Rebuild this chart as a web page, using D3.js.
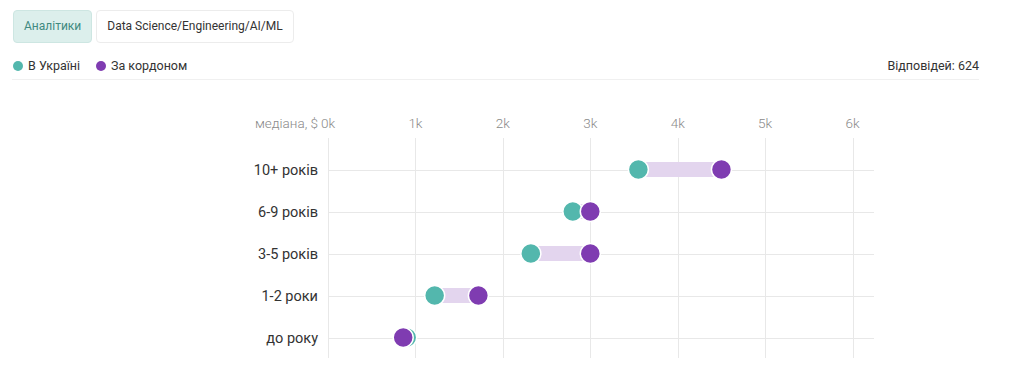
<!DOCTYPE html>
<html lang="uk">
<head>
    <meta charset="UTF-8">
    <title>Зарплати</title>
    <script src="https://d3js.org/d3.v7.min.js"></script>
    <style>
        body {
            margin: 0;
            background-color: #fff;
            font-family: Roboto, "Noto Sans", Arial, sans-serif;
            color: #333;
        }

        .tabs {
            position: absolute;
            top: 10px;
            left: 13px;
            display: flex;
            gap: 4px;
        }

        .tab {
            height: 31px;
            line-height: 31px;
            padding: 0 10px;
            font-size: 12px;
            border: 1px solid #ececec;
            border-radius: 4px;
            background: #fff;
            color: #333;
        }

        .tab.active {
            background: #dcefec;
            border-color: #cde6e2;
            color: #3f8a80;
        }
    </style>
</head>
<body>
    <div class="tabs">
        <div class="tab active">Аналітики</div>
        <div class="tab">Data Science/Engineering/AI/ML</div>
    </div>
    <div id="chart"></div>

    <script>
        // data (median, $)
        const categories = ["10+ років", "6-9 років", "3-5 років", "1-2 роки", "до року"];
        const inUkraine = [3550, 2800, 2320, 1220, 900];
        const abroad = [4500, 3000, 3000, 1720, 860];
        const ticks = [0, 1000, 2000, 3000, 4000, 5000, 6000];
        const seriesNames = ["В Україні", "За кордоном"];
        const responses = 624;

        const teal = "#53b7ad";
        const purple = "#7f3cb1";

        const W = 1024, H = 388;
        const svg = d3.select("#chart")
            .append("svg")
            .attr("width", W)
            .attr("height", H)
            .style("position", "absolute")
            .style("left", 0)
            .style("top", 0)
            .style("pointer-events", "none");

        // legend
        const legend = svg.append("g");
        const legendX = [18, 101];
        seriesNames.forEach((name, i) => {
            legend.append("circle")
                .attr("cx", legendX[i])
                .attr("cy", 66)
                .attr("r", 5)
                .attr("fill", i === 0 ? teal : purple);
            legend.append("text")
                .attr("x", legendX[i] + 10)
                .attr("y", 66)
                .attr("dy", "0.35em")
                .attr("font-size", 12.5)
                .attr("fill", "#333")
                .text(name);
        });
        svg.append("text")
            .attr("x", 979)
            .attr("y", 66)
            .attr("dy", "0.35em")
            .attr("text-anchor", "end")
            .attr("font-size", 12.5)
            .attr("fill", "#333")
            .text(`Відповідей: ${responses}`);
        svg.append("line")
            .attr("x1", 12).attr("x2", 979)
            .attr("y1", 79.5).attr("y2", 79.5)
            .attr("stroke", "#f0f0f0");

        // scales
        const x = d3.scaleLinear().domain([0, 6000]).range([328, 852.6]);
        const y = d3.scalePoint().domain(categories).range([169.5, 337.5]);
        const gridRight = 874;

        // vertical grid + tick labels
        const g = svg.append("g");
        g.selectAll(".vgrid")
            .data(ticks)
            .enter()
            .append("line")
            .attr("x1", d => Math.round(x(d)) + 0.5)
            .attr("x2", d => Math.round(x(d)) + 0.5)
            .attr("y1", 138)
            .attr("y2", 358)
            .attr("stroke", "#e8e8e8");

        g.selectAll(".tick")
            .data(ticks)
            .enter()
            .append("text")
            .attr("x", d => x(d))
            .attr("y", 123)
            .attr("dy", "0.35em")
            .attr("text-anchor", "middle")
            .attr("font-size", 13.5)
            .attr("font-weight", 300)
            .attr("fill", "#8a8a8a")
            .text(d => `${d / 1000}k`);

        g.append("text")
            .attr("x", x(0) - 10)
            .attr("y", 123)
            .attr("dy", "0.35em")
            .attr("text-anchor", "end")
            .attr("font-size", 13.5)
            .attr("font-weight", 300)
            .attr("fill", "#8a8a8a")
            .text("медіана, $");

        // horizontal grid + category labels
        g.selectAll(".hgrid")
            .data(categories)
            .enter()
            .append("line")
            .attr("x1", x(0))
            .attr("x2", gridRight)
            .attr("y1", d => Math.round(y(d)) + 0.5)
            .attr("y2", d => Math.round(y(d)) + 0.5)
            .attr("stroke", "#e8e8e8");

        g.selectAll(".cat")
            .data(categories)
            .enter()
            .append("text")
            .attr("x", 318)
            .attr("y", d => y(d))
            .attr("dy", "0.35em")
            .attr("text-anchor", "end")
            .attr("font-size", 14.5)
            .attr("font-weight", 400)
            .attr("fill", "#333")
            .text(d => d);

        const rows = categories.map((c, i) => ({ cat: c, ua: inUkraine[i], ab: abroad[i] }));

        // connecting bands
        g.selectAll(".band")
            .data(rows)
            .enter()
            .append("rect")
            .attr("x", d => x(Math.min(d.ua, d.ab)))
            .attr("width", d => Math.abs(x(d.ab) - x(d.ua)))
            .attr("y", d => y(d.cat) - 7.5)
            .attr("height", 15)
            .attr("fill", "#e3d5ee");

        // dots
        g.selectAll(".ua")
            .data(rows)
            .enter()
            .append("circle")
            .attr("cx", d => x(d.ua))
            .attr("cy", d => y(d.cat))
            .attr("r", 10)
            .attr("fill", teal)
            .attr("stroke", "#fff")
            .attr("stroke-width", 1.5);

        g.selectAll(".ab")
            .data(rows)
            .enter()
            .append("circle")
            .attr("cx", d => x(d.ab))
            .attr("cy", d => y(d.cat))
            .attr("r", 10)
            .attr("fill", purple)
            .attr("stroke", "#fff")
            .attr("stroke-width", 1.5);
    </script>
</body>
</html>
